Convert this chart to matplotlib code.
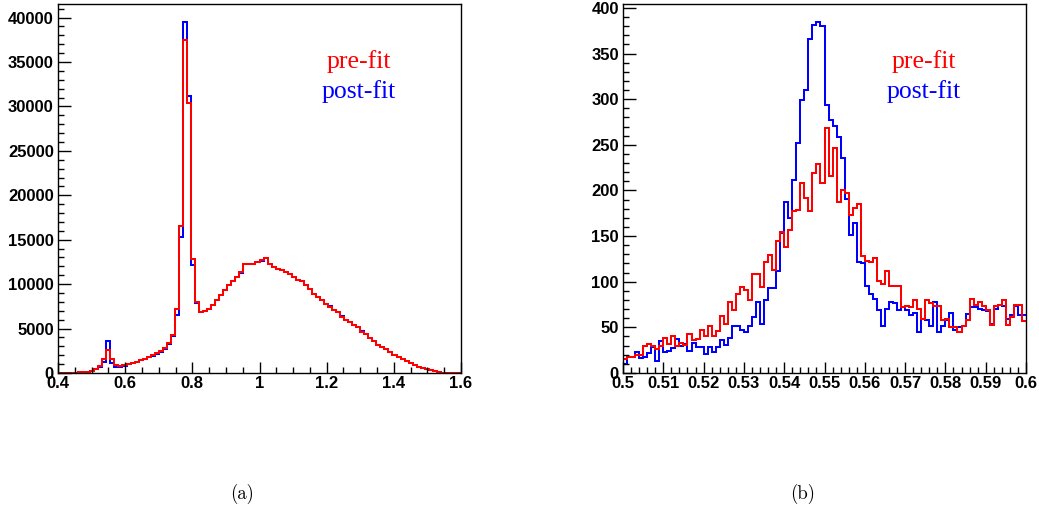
import numpy as np
import matplotlib
matplotlib.use("Agg")
import matplotlib.pyplot as plt
from matplotlib.ticker import MultipleLocator, FuncFormatter

# ---------------- data ----------------
# (a) full range, 100 bins from 0.4 to 1.6
range_a = (0.4, 1.6)
pre_fit_a = [0, 0, 10, 20, 40, 70, 110, 150, 260, 450,
             800, 1550, 2600, 1550, 900, 750, 850, 980, 1090, 1240,
             1430, 1620, 1840, 1990, 2220, 2440, 2780, 3350, 4250, 7200,
             16550, 37500, 30400, 12850, 7950, 6900, 6950, 7200, 7650, 8200,
             8800, 9350, 9900, 10400, 10800, 11350, 12300, 12250, 12300, 12450,
             12700, 12950, 12300, 11900, 11750, 11600, 11400, 11100, 10850, 10500,
             10300, 9900, 9500, 8850, 8600, 8200, 7800, 7450, 7100, 6850,
             6350, 6000, 5700, 5400, 5150, 4650, 4400, 3900, 3600, 3150,
             2900, 2650, 2350, 2000, 1850, 1600, 1350, 1150, 900, 700,
             550, 400, 300, 200, 120, 50, 20, 5, 0, 0]
post_fit_a = [0, 0, 10, 20, 40, 60, 100, 140, 220, 400,
              650, 1250, 3650, 1150, 650, 700, 830, 960, 1070, 1220,
              1410, 1600, 1800, 1960, 2190, 2400, 2740, 3300, 4150, 6500,
              15300, 39550, 31150, 12100, 7900, 6900, 6950, 7200, 7600, 8200,
              8750, 9300, 9900, 10400, 10800, 11300, 12300, 12250, 12300, 12450,
              12650, 12900, 12300, 11900, 11750, 11600, 11400, 11150, 10850, 10500,
              10300, 9950, 9500, 8900, 8600, 8250, 7800, 7500, 7100, 6850,
              6400, 6000, 5700, 5400, 5150, 4700, 4400, 3950, 3600, 3200,
              2900, 2650, 2350, 2000, 1850, 1600, 1350, 1150, 900, 700,
              550, 400, 300, 200, 120, 50, 20, 5, 0, 0]

# (b) zoom, 100 bins from 0.5 to 0.6
range_b = (0.5, 0.6)
pre_fit_b = [15, 18, 18, 20, 20, 30, 32, 30, 26, 30,
             38, 32, 40, 30, 33, 31, 43, 36, 37, 47,
             41, 52, 41, 46, 62, 54, 78, 69, 86, 94,
             91, 80, 109, 109, 94, 122, 129, 113, 145, 154,
             138, 157, 177, 179, 208, 192, 178, 219, 229, 208,
             268, 216, 246, 187, 201, 197, 173, 181, 185, 128,
             123, 122, 126, 101, 97, 112, 95, 95, 95, 72,
             73, 72, 80, 70, 59, 80, 77, 73, 73, 58,
             59, 50, 50, 45, 51, 58, 81, 74, 78, 73,
             69, 53, 73, 75, 80, 53, 61, 74, 75, 57]
post_fit_b = [10, 17, 18, 23, 16, 18, 22, 28, 13, 35,
              23, 24, 27, 37, 30, 32, 24, 33, 28, 28,
              21, 28, 23, 29, 36, 31, 38, 51, 51, 47,
              45, 52, 61, 78, 54, 80, 93, 93, 112, 153,
              187, 170, 211, 252, 299, 310, 366, 381, 385, 380,
              294, 277, 271, 258, 235, 191, 151, 164, 122, 121,
              95, 87, 81, 69, 51, 70, 78, 77, 69, 72,
              69, 63, 66, 45, 59, 58, 52, 78, 45, 52,
              58, 66, 47, 50, 51, 65, 72, 72, 70, 69,
              68, 54, 70, 75, 73, 59, 63, 73, 63, 63]

legend_labels = ["pre-fit", "post-fit"]
captions = ["(a)", "(b)"]

# ---------------- figure ----------------
W, H = 1039, 514
fig = plt.figure(figsize=(W / 100, H / 100), dpi=100)
fig.patch.set_facecolor("white")

ax_a = fig.add_axes([58 / W, 1 - 373 / H, 403 / W, 369 / H])
ax_b = fig.add_axes([623 / W, 1 - 373 / H, 403 / W, 369 / H])

RED = "#ff0000"
BLUE = "#0000ff"
tickfont = dict(family="Liberation Sans", weight="bold", size=12)


def fmt(v, pos):
    return "%g" % round(v, 6)


def draw(ax, rng, pre, post, xmaj, xmin, ymaj, ymin):
    edges = np.linspace(rng[0], rng[1], len(pre) + 1)
    ax.stairs(post, edges, baseline=None, color=BLUE, lw=1.45)
    ax.stairs(pre, edges, baseline=None, color=RED, lw=1.45)
    ax.set_xlim(rng)
    ax.set_ylim(0, 1.05 * max(max(pre), max(post)))
    ax.xaxis.set_major_locator(MultipleLocator(xmaj))
    ax.xaxis.set_minor_locator(MultipleLocator(xmin))
    ax.yaxis.set_major_locator(MultipleLocator(ymaj))
    ax.yaxis.set_minor_locator(MultipleLocator(ymin))
    ax.xaxis.set_major_formatter(FuncFormatter(fmt))
    ax.yaxis.set_major_formatter(FuncFormatter(fmt))
    ax.tick_params(axis="both", which="both", direction="in",
                   top=False, right=False, width=1.0, color="black")
    ax.tick_params(axis="x", which="major", length=8, pad=2.5)
    ax.tick_params(axis="x", which="minor", length=4)
    ax.tick_params(axis="y", which="major", length=9, pad=3)
    ax.tick_params(axis="y", which="minor", length=4.5)
    for lab in ax.get_xticklabels() + ax.get_yticklabels():
        lab.set_fontfamily(tickfont["family"])
        lab.set_fontweight(tickfont["weight"])
        lab.set_fontsize(tickfont["size"])
    for sp in ax.spines.values():
        sp.set_linewidth(1.0)
        sp.set_color("black")
    ax.text(0.747, 0.843, legend_labels[0], color=RED, transform=ax.transAxes,
            ha="center", va="center", family="Liberation Serif", fontsize=18.5)
    ax.text(0.747, 0.764, legend_labels[1], color=BLUE, transform=ax.transAxes,
            ha="center", va="center", family="Liberation Serif", fontsize=18.5)


draw(ax_a, range_a, pre_fit_a, post_fit_a, 0.2, 0.05, 5000, 1000)
draw(ax_b, range_b, pre_fit_b, post_fit_b, 0.01, 0.002, 50, 10)

fig.text(242 / W, 1 - 494 / H, captions[0], ha="center", va="center",
         family="cmr10", fontsize=13.5)
fig.text(803 / W, 1 - 494 / H, captions[1], ha="center", va="center",
         family="cmr10", fontsize=13.5)

fig.savefig("out.png", dpi=100, facecolor="white")
